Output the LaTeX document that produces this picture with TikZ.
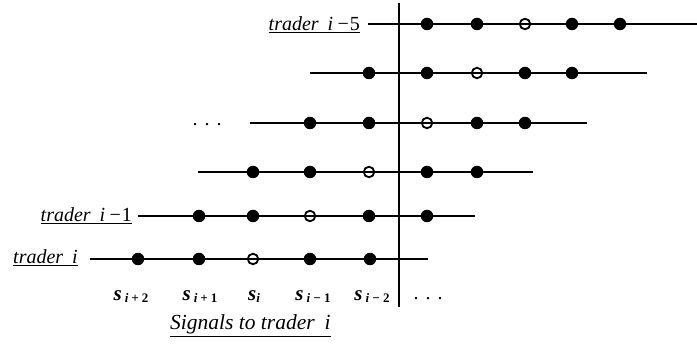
\documentclass[tikz,border=0pt]{standalone}
\usepackage{fontspec}
\setmainfont{Liberation Serif}
\begin{document}
\begin{tikzpicture}[x=1pt,y=-1pt,
  sig/.style={circle,fill=black,inner sep=0pt,minimum size=12.5pt},
  sigopen/.style={circle,draw=black,line width=1.8pt,inner sep=0pt,minimum size=10.5pt},
  track/.style={line width=1.8pt},
  axis/.style={line width=1.4pt},
  lbl/.style={font=\fontsize{20}{24}\selectfont\itshape,inner sep=0pt},
  slbl/.style={font=\fontsize{21}{24}\selectfont\bfseries\itshape,inner sep=0pt}
]
\useasboundingbox (0,0) rectangle (697,347);

% vertical separator
\coordinate (axtop) at (399,3);
\coordinate (axbot) at (399,307);
\draw[axis] (axtop) -- (axbot);

% one row of signals per trader: row / y / line start / line end / five signal positions
\foreach \r/\y/\xs/\xe/\pa/\pb/\pc/\pd/\pe in {
  1/24/368/697/427/477/525/572/620,
  2/73/310/647/369/427/477/525/572,
  3/123/250/587/310/369/427/477/525,
  4/172/198/533/253/310/369/427/477,
  5/216/138/475/199/253/310/369/427,
  6/259/90/428/138/199/253/310/370}
{
  \coordinate (s\r) at (\xs,\y);
  \coordinate (e\r) at (\xe,\y);
  \draw[track] (s\r) -- (e\r);
  \node[sig] (d\r a) at (\pa,\y) {};
  \node[sig] (d\r b) at (\pb,\y) {};
  \node[sigopen] (d\r c) at (\pc,\y) {};
  \node[sig] (d\r d) at (\pd,\y) {};
  \node[sig] (d\r e) at (\pe,\y) {};
}

% trader labels
\node[lbl,anchor=base east] (t5) at (360,31) {\underline{trader\hspace{9pt}i\hspace{3pt}−{\upshape 5}}};
\node[lbl,anchor=base east] (t1) at (132,222) {\underline{trader\hspace{9pt}i\hspace{3pt}−{\upshape 1}}};
\node[lbl,anchor=base east] (t0) at (78,264) {\underline{trader\hspace{9pt}i}};
\node[lbl,anchor=base,font=\fontsize{20}{24}\selectfont] (dl) at (207,126) {.\hspace{7pt}.\hspace{7pt}.};

% signal labels
\newcommand\sublbl[1]{\raisebox{-2pt}{\fontsize{13}{15}\selectfont #1}}
\node[slbl,anchor=base] (l1) at (131,301) {s\hspace{3pt}\sublbl{i\hspace{3pt}+\hspace{3pt}\upshape 2}};
\node[slbl,anchor=base] (l2) at (200,301) {s\hspace{3pt}\sublbl{i\hspace{3pt}+\hspace{3pt}\upshape 1}};
\node[slbl,anchor=base] (l3) at (254,301) {s\sublbl{i}};
\node[slbl,anchor=base] (l4) at (313,301) {s\hspace{3pt}\sublbl{i\hspace{3pt}−\hspace{3pt}\upshape 1}};
\node[slbl,anchor=base] (l5) at (372,301) {s\hspace{3pt}\sublbl{i\hspace{3pt}−\hspace{3pt}\upshape 2}};
\node[lbl,anchor=base,font=\fontsize{20}{24}\selectfont] (l6) at (428,300) {.\hspace{7pt}.\hspace{7pt}.};

\node[lbl,anchor=base west,font=\fontsize{21.5}{24}\selectfont\itshape] (caption) at (170,330) {\underline{Signals to trader\hspace{10pt}i}};
\end{tikzpicture}
\end{document}
